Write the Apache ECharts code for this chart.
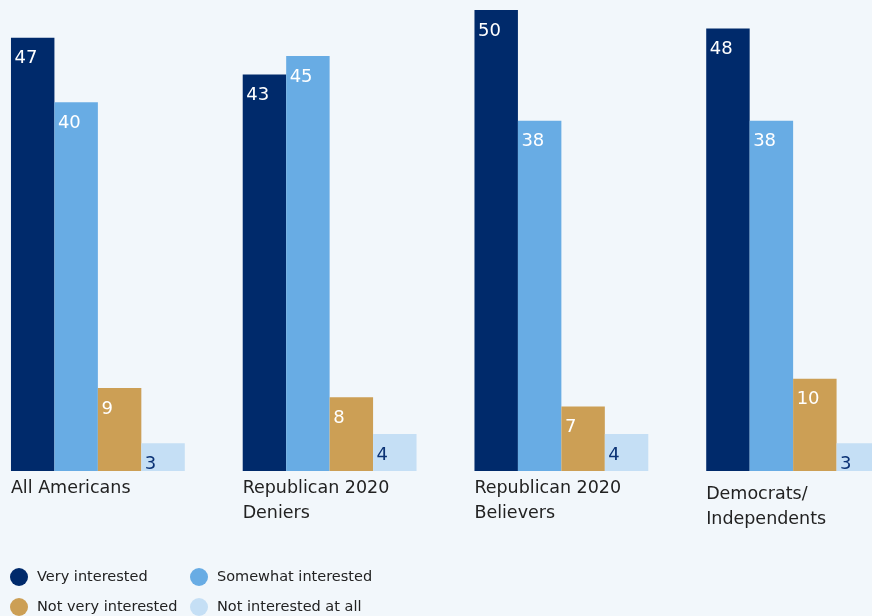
<!DOCTYPE html>
<html><head><meta charset="utf-8">
<script src="https://cdn.jsdelivr.net/npm/echarts@6/dist/echarts.min.js"></script>
<style>html,body{margin:0;padding:0;background:#f2f7fb;}#c{width:872px;height:616px;}</style>
</head><body><div id="c"></div>
<script>
const categories = ["All Americans", "Republican 2020\nDeniers", "Republican 2020\nBelievers", "Democrats/\nIndependents"];
const seriesNames = ["Very interested", "Somewhat interested", "Not very interested", "Not interested at all"];
const veryInterested = [47, 43, 50, 48];
const somewhatInterested = [40, 45, 38, 38];
const notVeryInterested = [9, 8, 7, 10];
const notAtAll = [3, 4, 4, 3];
const colors = ["#002a6b", "#68ace4", "#cc9f55", "#c5dff5"];
const labelColors = ["#ffffff", "#ffffff", "#ffffff", "#0b3275"];
const FONT = "DejaVu Sans";

const values = [veryInterested, somewhatInterested, notVeryInterested, notAtAll];
const chart = echarts.init(document.getElementById('c'));
chart.setOption({
  backgroundColor: '#f2f7fb',
  animation: false,
  textStyle: {fontFamily: FONT},
  grid: {left: -18, width: 927, top: 10, bottom: 145, containLabel: false, outerBoundsMode: 'none'},
  xAxis: {
    type: 'category', data: categories,
    axisLine: {show: false}, axisTick: {show: false},
    axisLabel: {
      margin: 5, interval: 0,
      formatter: function (v, i) {
        const st = i === 3 ? 'd' : 'a';
        return v.split('\n').map(function (s) { return '{' + st + '|' + s + '}'; }).join('\n');
      },
      rich: {
        a: {width: 174, align: 'left', fontSize: 17.5, lineHeight: 25, color: '#222', fontFamily: FONT},
        d: {width: 174, align: 'left', fontSize: 17.5, lineHeight: 25, color: '#222', fontFamily: FONT, padding: [12, 0, 0, 0]}
      }
    }
  },
  yAxis: {type: 'value', min: 0, max: 50, show: false, splitLine: {show: false}},
  legend: [
    {data: [seriesNames[0], seriesNames[2]], orient: 'vertical', left: 10, top: 568, padding: 0,
     icon: 'circle', itemWidth: 18, itemHeight: 18, itemGap: 12,
     textStyle: {fontSize: 14.5, color: '#222', fontFamily: FONT, padding: [0, 0, 0, 4]}},
    {data: [seriesNames[1], seriesNames[3]], orient: 'vertical', left: 190, top: 568, padding: 0,
     icon: 'circle', itemWidth: 18, itemHeight: 18, itemGap: 12,
     textStyle: {fontSize: 14.5, color: '#222', fontFamily: FONT, padding: [0, 0, 0, 4]}}
  ],
  series: values.map(function (arr, k) {
    return {
      name: seriesNames[k], type: 'bar', data: arr,
      barGap: '0%', barCategoryGap: '25%',
      itemStyle: {color: colors[k]},
      label: {show: true, position: 'insideTopLeft', distance: 0, offset: [3.5, 12],
        color: labelColors[k], fontSize: 18, fontFamily: FONT}
    };
  })
});
</script></body></html>
